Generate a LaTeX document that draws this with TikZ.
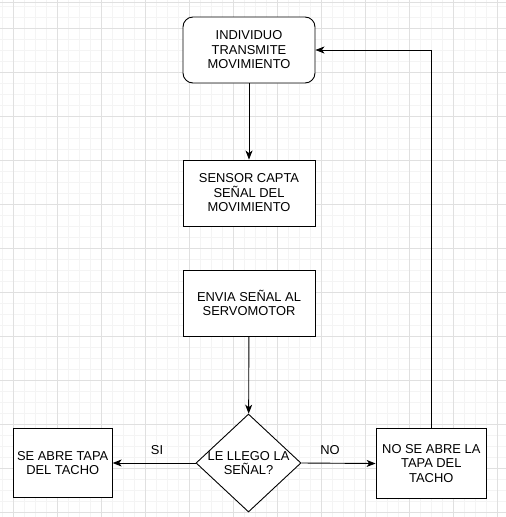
\documentclass[tikz,border=0pt]{standalone}
\usepackage{fontspec}
\setmainfont{Liberation Sans}
\usetikzlibrary{shapes.geometric,arrows.meta}
\begin{document}
\begin{tikzpicture}[x=1pt,y=-1pt,
  box/.style={draw=black,line width=0.9pt,fill=white,minimum width=132,minimum height=66,inner sep=0,align=center,font=\fontsize{12.9}{14.5}\selectfont},
  rbox/.style={box,rounded corners=10pt},
  dia/.style={draw=black,line width=0.9pt,fill=white,diamond,minimum width=105,minimum height=98,inner sep=0},
  txt/.style={align=center,font=\fontsize{12.9}{14.5}\selectfont,inner sep=0},
  lbl/.style={font=\fontsize{12.9}{14}\selectfont,inner sep=0},
  conn/.style={draw=black,line width=0.9pt,-{Stealth[length=9pt,width=7pt,inset=2.5pt]}}]
\useasboundingbox (0,0) rectangle (506,517);
\fill[white] (0,0) rectangle (506,517);
% minor grid
\foreach \i in {0,...,46} {\draw[gray!9,line width=0.6pt] ({2.3+11*\i},0) -- ({2.3+11*\i},517);}
\foreach \j in {0,...,46} {\draw[gray!9,line width=0.6pt] (0,{6+11*\j}) -- (506,{6+11*\j});}
% major grid
\foreach \i in {0,...,11} {\draw[gray!24,line width=0.6pt] ({13.3+44*\i},0) -- ({13.3+44*\i},517);}
\foreach \j in {0,...,11} {\draw[gray!24,line width=0.6pt] (0,{28+44*\j}) -- (506,{28+44*\j});}
\draw[gray!24,line width=0.6pt] (0,2.5) -- (506,2.5);
% nodes
\node[rbox] (a) at (249,50) {INDIVIDUO\\TRANSMITE\\MOVIMIENTO};
\node[box] (b) at (249,193) {SENSOR CAPTA\\SEÑAL DEL\\MOVIMIENTO};
\node[box] (c) at (249,303) {ENVIA SEÑAL AL\\SERVOMOTOR};
\node[dia] (d) at (248.5,463) {};
\node[txt] (dt) at (248.5,463) {LE LLEGO LA\\SEÑAL?};
\node[box,minimum width=99,minimum height=69] (l) at (62.7,463) {SE ABRE TAPA\\DEL TACHO};
\node[box,minimum width=110.5,minimum height=70] (r) at (431.3,463.5) {NO SE ABRE LA\\TAPA DEL\\TACHO};
\coordinate (tr) at (431.3,50);
% connectors
\draw[conn] (a) -- (b);
\draw[conn] (c) -- (d);
\draw[conn] (d.west) -- (l.east);
\draw[conn] (d.east) -- (r.west);
\draw[conn] (r.north) -- (tr) -- (a.east);
% labels
\node[lbl] (si) at (157,450) {SI};
\node[lbl] (no) at (330,450) {NO};
\end{tikzpicture}
\end{document}
